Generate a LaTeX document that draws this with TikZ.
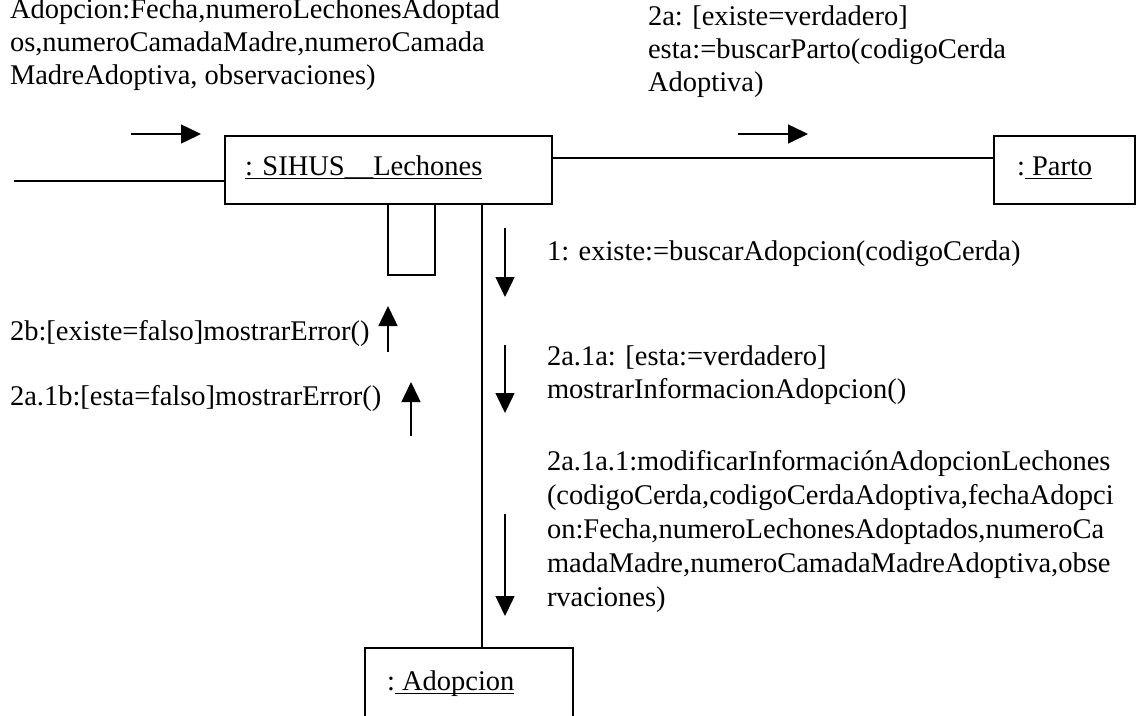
\documentclass[tikz,border=0pt]{standalone}
\usepackage{fontspec}
\setmainfont{Liberation Serif}
\usetikzlibrary{arrows.meta,calc}
\newcommand{\myul}[1]{\setbox0=\hbox{#1}\rlap{\rule[-4pt]{\wd0}{1.5pt}}\box0}
\begin{document}
\begin{tikzpicture}[x=1pt,y=-1pt,
  every node/.style={font=\fontsize{28.5}{33}\selectfont, inner sep=0pt, outer sep=0pt},
  obj/.style={draw, line width=1.8pt, rectangle, inner sep=0pt, anchor=north west},
  txt/.style={anchor=base west},
  link/.style={line width=1.5pt},
  msg/.style={line width=1.5pt, -{Triangle[length=20pt,width=19pt]}}]
\clip (0,0) rectangle (1139,715);
% objects
\node[obj, minimum width=327pt, minimum height=68pt] (sihus) at (225,136) {};
\node[txt] (sihusT) at (245,175) {\myul{: SIHUS\_\_Lechones}};
\node[obj, minimum width=141pt, minimum height=68pt] (parto) at (994,136) {};
\node[txt] (partoT) at (1017,175) {:\myul{ Parto}};
\node[obj, minimum width=208pt, minimum height=90pt] (adop) at (365,648) {};
\node[txt] (adopT) at (387,690) {:\myul{ Adopcion}};
% links
\draw[link] ([yshift=12pt]sihus.east) -- ([yshift=12pt]parto.west);
\draw[link] ([yshift=-11pt]sihus.west) -- ++(-211,0);
\coordinate (vx) at (482,0);
\draw[link] (sihus.south -| vx) -- (adop.north -| vx);
\coordinate (sl) at (388,275);
\coordinate (sr) at (435,275);
\draw[link] (sihus.south -| sl) -- (sl) -- (sr) -- (sihus.south -| sr);
% messages
\draw[msg] (131,134) -- (201,134);
\draw[msg] (738,134) -- (808,134);
\draw[msg] (505,228) -- (505,297);
\draw[msg] (505,345) -- (505,413);
\draw[msg] (505,514) -- (505,616);
\draw[msg] (388,352) -- (388,306);
\draw[msg] (411,436) -- (411,382);
% labels
\node[txt] (tl1) at (10,18) {Adopcion:Fecha,numeroLechonesAdoptad};
\node[txt] (tl2) at (10,51) {os,numeroCamadaMadre,numeroCamada};
\node[txt] (tl3) at (10,84) {MadreAdoptiva, observaciones)};
\node[txt] (tr1) at (648,25) {2a: [existe=verdadero]};
\node[txt] (tr2) at (648,58) {esta:=buscarParto(codigoCerda};
\node[txt] (tr3) at (648,91) {Adoptiva)};
\node[txt] (m1) at (547,260) {1: existe:=buscarAdopcion(codigoCerda)};
\node[txt] (m2a) at (547,365) {2a.1a: [esta:=verdadero]};
\node[txt] (m2b) at (547,398) {mostrarInformacionAdopcion()};
\node[txt] (e1) at (10,340) {2b:[existe=falso]mostrarError()};
\node[txt] (e2) at (10,405) {2a.1b:[esta=falso]mostrarError()};
\node[txt] (b1) at (547,470) {2a.1a.1:modificarInformaciónAdopcionLechones};
\node[txt] (b2) at (547,504) {(codigoCerda,codigoCerdaAdoptiva,fechaAdopci};
\node[txt] (b3) at (547,538) {on:Fecha,numeroLechonesAdoptados,numeroCa};
\node[txt] (b4) at (547,572) {madaMadre,numeroCamadaMadreAdoptiva,obse};
\node[txt] (b5) at (547,606) {rvaciones)};
\end{tikzpicture}
\end{document}
